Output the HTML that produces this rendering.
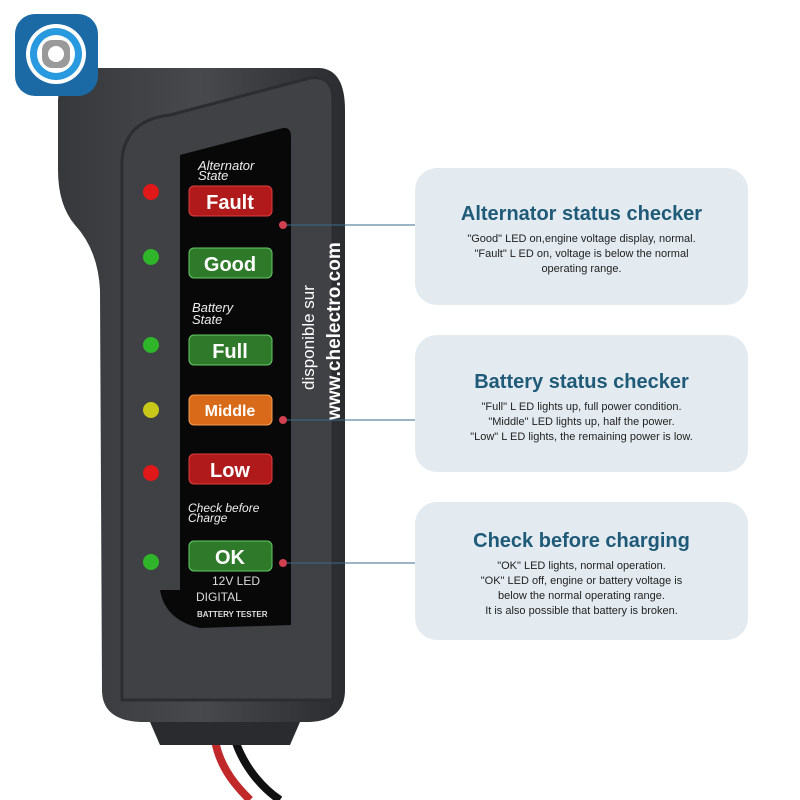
<!DOCTYPE html>
<html><head><meta charset="utf-8"><style>
body{margin:0;background:#fff;width:800px;height:800px;overflow:hidden;font-family:"Liberation Sans",sans-serif}
.card{position:absolute;left:415px;width:333px;background:#e3ebf1;border-radius:22px;text-align:center;color:#222}
.card h2{margin:0;font-size:20px;color:#1f5a78;font-weight:bold}
.card p{margin:6px 0 0;font-size:11px;line-height:15px}
</style></head><body>
<svg width="800" height="800" style="position:absolute;left:0;top:0">
<defs><linearGradient id="b" x1="0" x2="1"><stop offset="0" stop-color="#36383c"/><stop offset="0.5" stop-color="#47494d"/><stop offset="1" stop-color="#2a2c30"/></linearGradient></defs>
<path d="M215 740 C220 770 240 790 250 800" stroke="#c0282a" stroke-width="8" fill="none"/>
<path d="M235 740 C245 770 265 790 280 800" stroke="#111" stroke-width="8" fill="none"/>
<path d="M85 68 L320 68 Q345 70 345 110 L345 690 Q345 720 310 722 L140 722 Q102 720 102 690 L100 290 Q98 250 75 225 Q58 205 58 170 L58 100 Q60 70 85 68 Z" fill="url(#b)"/>
<path d="M160 745 L290 745 L300 722 L150 722 Z" fill="#2a2b2e"/>
<path d="M122 700 L122 160 Q125 120 170 115 L310 78 Q333 75 333 100 L333 700 Z" fill="#3f4145" stroke="#2c2d30" stroke-width="3"/>
<path d="M180 155 L283 128 Q291 127 291 137 L291 625 L200 628 Q165 620 160 590 L180 590 Z" fill="#080808"/>
<rect x="15" y="14" width="83" height="82" rx="20" fill="#1b6aa6"/>
<circle cx="56" cy="54" r="30" fill="#fff"/>
<circle cx="56" cy="54" r="26" fill="#2a9ae0"/>
<circle cx="56" cy="54" r="19" fill="#fff"/>
<rect x="42" y="40" width="28" height="28" rx="10" fill="#9a9a9a"/>
<circle cx="56" cy="54" r="8" fill="#fff"/>
<g>
<circle cx="151" cy="192" r="8" fill="#e01818"/><circle cx="151" cy="257" r="8" fill="#2fb52a"/>
<circle cx="151" cy="345" r="8" fill="#2fb52a"/><circle cx="151" cy="410" r="8" fill="#c8c81a"/>
<circle cx="151" cy="473" r="8" fill="#e01818"/><circle cx="151" cy="562" r="8" fill="#2fb52a"/>
</g>
<g font-family="Liberation Sans" font-weight="bold" fill="#fff" text-anchor="middle">
<rect x="189" y="186" width="83" height="30" rx="5" fill="#b01a1a" stroke="#e04040"/><text x="230" y="209" font-size="20">Fault</text>
<rect x="189" y="248" width="83" height="30" rx="5" fill="#2f7a2a" stroke="#6c6"/><text x="230" y="271" font-size="20">Good</text>
<rect x="189" y="335" width="83" height="30" rx="5" fill="#2f7a2a" stroke="#6c6"/><text x="230" y="358" font-size="20">Full</text>
<rect x="189" y="395" width="83" height="30" rx="5" fill="#d86a1a" stroke="#f5a050"/><text x="230" y="416" font-size="16">Middle</text>
<rect x="189" y="454" width="83" height="30" rx="5" fill="#b01a1a" stroke="#e04040"/><text x="230" y="477" font-size="20">Low</text>
<rect x="189" y="541" width="83" height="30" rx="5" fill="#2f7a2a" stroke="#6c6"/><text x="230" y="564" font-size="20">OK</text>
</g>
<g font-family="Liberation Sans" font-style="italic" fill="#eee" font-size="13">
<text x="198" y="170">Alternator</text><text x="198" y="180">State</text>
<text x="192" y="312">Battery</text><text x="192" y="324">State</text>
<text x="188" y="512" font-size="12">Check before</text><text x="188" y="522" font-size="12">Charge</text>
</g>
<text x="212" y="585" fill="#ddd" font-size="12">12V LED</text>
<text x="196" y="601" fill="#ddd" font-size="12">DIGITAL</text>
<text x="197" y="617" fill="#ddd" font-size="8" font-weight="bold">BATTERY TESTER</text>
<text transform="translate(314,390) rotate(-90)" fill="#fff" font-size="17">disponible sur</text>
<text transform="translate(340,420) rotate(-90)" fill="#fff" font-size="19" font-weight="bold">www.chelectro.com</text>
<g stroke="#3a6a8a" stroke-width="1"><line x1="283" y1="225" x2="415" y2="225"/><line x1="283" y1="420" x2="415" y2="420"/><line x1="283" y1="563" x2="415" y2="563"/></g>
<g fill="#d04050"><circle cx="283" cy="225" r="4"/><circle cx="283" cy="420" r="4"/><circle cx="283" cy="563" r="4"/></g>
</svg>
<div class="card" style="top:168px;height:137px"><h2 style="margin-top:35px">Alternator status checker</h2><p>"Good" LED on,engine voltage display, normal.<br>"Fault" L ED on, voltage is below the normal<br>operating range.</p></div>
<div class="card" style="top:335px;height:137px"><h2 style="margin-top:36px">Battery status checker</h2><p>"Full" L ED lights up, full power condition.<br>"Middle" LED lights up, half the power.<br>"Low" L ED lights, the remaining power is low.</p></div>
<div class="card" style="top:502px;height:138px"><h2 style="margin-top:28px">Check before charging</h2><p>"OK" LED lights, normal operation.<br>"OK" LED off, engine or battery voltage is<br>below the normal operating range.<br>It is also possible that battery is broken.</p></div>
</body></html>
